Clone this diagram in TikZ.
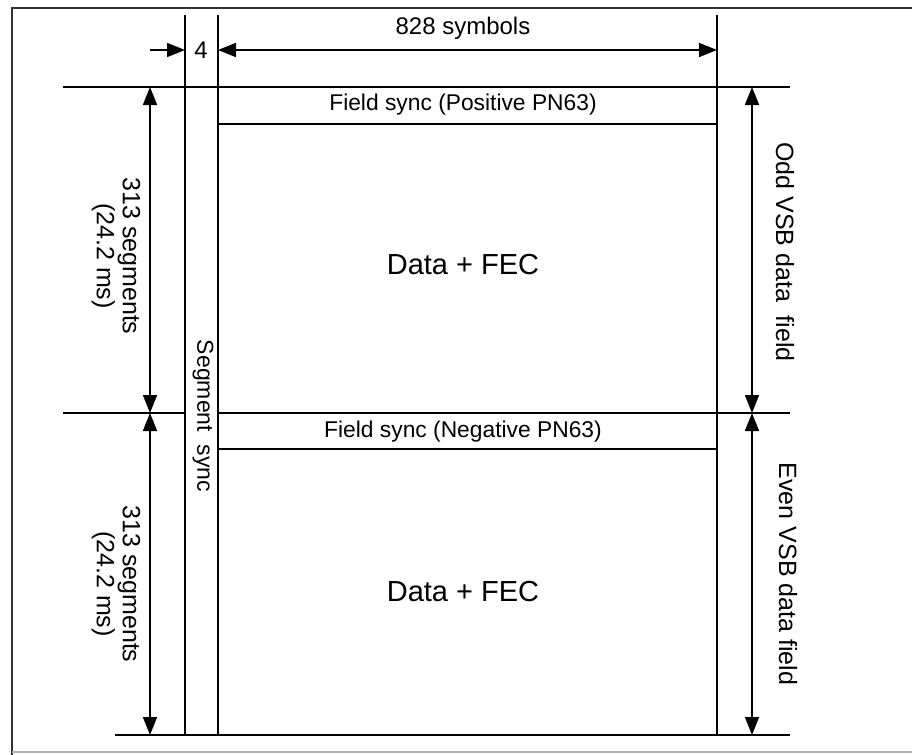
\documentclass[tikz,border=0pt]{standalone}
\usepackage{fontspec}
\setmainfont{Liberation Sans}
\usepackage{tikz}
\usetikzlibrary{arrows.meta}
\tikzset{frameline/.style={line width=1pt},
 dimarrow/.style={line width=0.9pt,{Triangle[length=9pt,width=7pt]}-{Triangle[length=9pt,width=7pt]}},
 onearrow/.style={line width=0.9pt,-{Triangle[length=9pt,width=7pt]}},
 sidelabel/.style={rotate=-90,align=center,inner sep=1pt,font=\fontsize{12.5}{13}\selectfont}}

\begin{document}
\begin{tikzpicture} [x=0.5pt, y=-0.5pt]
\useasboundingbox (0,0) rectangle (912,755);
\draw[line width=1.2pt, black!80] (12,755)--(12,8)--(912,8);
\draw[line width=0.6pt, black!30] (12,752)--(912,752);
% grid corners
\coordinate (hl1) at (63,87); \coordinate (hr1) at (790,87);
\coordinate (hl2) at (63,413); \coordinate (hm2) at (185,413);
\coordinate (hn2) at (218,413); \coordinate (hr2) at (790,413);
\coordinate (hl3) at (115,735); \coordinate (hr3) at (790,735);
\coordinate (s1t) at (185,15); \coordinate (s1b) at (185,735);
\coordinate (s2t) at (218,15); \coordinate (s2b) at (218,735);
\coordinate (s3t) at (717,15); \coordinate (s3b) at (717,735);
\coordinate (f1l) at (218,124); \coordinate (f1r) at (717,124);
\coordinate (f2l) at (218,449); \coordinate (f2r) at (717,449);
\draw[frameline] (hl1)--(hr1); \draw[frameline] (hl3)--(hr3);
\draw[frameline] (hl2)--(hm2); \draw[frameline] (hn2)--(hr2);
\draw[frameline] (s1t)--(s1b); \draw[frameline] (s2t)--(s2b); \draw[frameline] (s3t)--(s3b);
\draw[frameline] (f1l)--(f1r); \draw[frameline] (f2l)--(f2r);
% dimension arrows
\coordinate (a4) at (150,50); \coordinate (a4e) at (185,50);
\coordinate (aw1) at (218,50); \coordinate (aw2) at (717,50);
\coordinate (al1) at (150,87); \coordinate (al2) at (150,413); \coordinate (al3) at (150,735);
\coordinate (ar1) at (752,87); \coordinate (ar2) at (752,413); \coordinate (ar3) at (752,735);
\draw[onearrow] (a4)--(a4e);
\draw[dimarrow] (aw1)--(aw2);
\draw[dimarrow] (al1)--(al2); \draw[dimarrow] (al2)--(al3);
\draw[dimarrow] (ar1)--(ar2); \draw[dimarrow] (ar2)--(ar3);
% labels
\node[font=\fontsize{12}{13}\selectfont] (four) at (201,50) {4};
\node[font=\fontsize{12}{13}\selectfont] (symbols) at (463,28) {828 symbols};
\node[font=\fontsize{11.4}{12}\selectfont] (possync) at (463,105) {Field sync (Positive PN63)};
\node[font=\fontsize{11.4}{12}\selectfont] (negsync) at (463,432) {Field sync (Negative PN63)};
\node[font=\fontsize{14.5}{15}\selectfont] (data1) at (463,265) {Data + FEC};
\node[font=\fontsize{14.5}{15}\selectfont] (data2) at (463,592) {Data + FEC};
\node[sidelabel] (seg1) at (116,256) {313 segments\\(24.2 ms)};
\node[sidelabel] (seg2) at (116,584) {313 segments\\(24.2 ms)};
\node[sidelabel] (oddfield) at (785,252) {Odd VSB data\ \ field};
\node[sidelabel] (evenfield) at (788,574) {Even VSB data field};
\node[sidelabel, font=\fontsize{11.5}{12}\selectfont] (segsync) at (203,416) {Segment\ \ sync};
\end{tikzpicture}
\end{document}
